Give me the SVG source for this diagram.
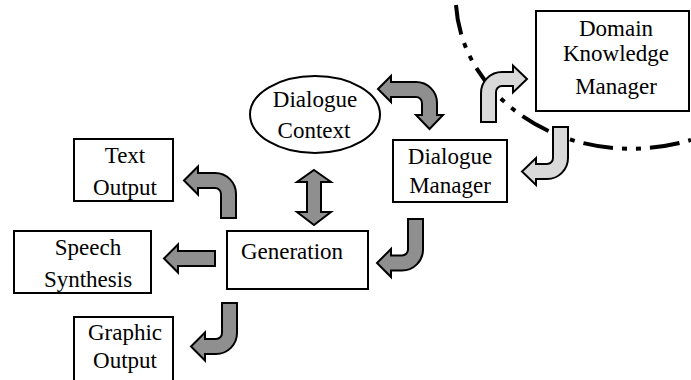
<svg xmlns="http://www.w3.org/2000/svg" width="691" height="380" viewBox="0 0 691 380">
<style>
.box{fill:#fff;stroke:#000;stroke-width:2}
.t{font-family:"Liberation Serif","Times New Roman",serif;font-size:23px;fill:#000;text-anchor:middle}
.dk{fill:#8f8f8f;stroke:#000;stroke-width:2;stroke-linejoin:miter}
.lt{fill:#d9d9d9;stroke:#000;stroke-width:2;stroke-linejoin:miter}
.bound{fill:none;stroke:#000;stroke-width:4;stroke-dasharray:30 9 5 9 5 9}
</style>
<rect width="691" height="380" fill="#fff"/>
<path class="bound" d="M456 5 C462 100 570 175 691 140"/>
<g id="domain-knowledge-manager">
<rect class="box" x="536" y="11" width="153" height="100"/>
<text class="t" x="616" y="36">Domain</text>
<text class="t" x="616" y="61">Knowledge</text>
<text class="t" x="616" y="94">Manager</text>
</g>
<g id="dialogue-manager">
<rect class="box" x="393" y="140" width="114" height="62"/>
<text class="t" x="450" y="164">Dialogue</text>
<text class="t" x="450" y="193">Manager</text>
</g>
<g id="dialogue-context">
<ellipse class="box" cx="315" cy="114.5" rx="65" ry="38.5"/>
<text class="t" x="315" y="107">Dialogue</text>
<text class="t" x="314" y="138">Context</text>
</g>
<g id="generation">
<rect class="box" x="227" y="231" width="141" height="58"/>
<text class="t" x="292" y="259">Generation</text>
</g>
<g id="text-output">
<rect class="box" x="74" y="139" width="99" height="62"/>
<text class="t" x="125" y="163">Text</text>
<text class="t" x="125" y="195">Output</text>
</g>
<g id="speech-synthesis">
<rect class="box" x="14" y="231" width="137" height="62"/>
<text class="t" x="88" y="255">Speech</text>
<text class="t" x="88" y="287">Synthesis</text>
</g>
<g id="graphic-output">
<rect class="box" x="74" y="317" width="99" height="70"/>
<text class="t" x="125" y="340">Graphic</text>
<text class="t" x="125" y="368">Output</text>
</g>
<g id="connectors">
<path class="dk" d="M378 89 L391 76 L391 82 L416 82 A21 21 0 0 1 437 103 L437 115 L443 115 L429.5 129 L416 115 L422 115 L422 103 A6 6 0 0 0 416 97 L391 97 L391 102 Z"/>
<path class="lt" d="M481 122 L481 93 A21 21 0 0 1 502 72 L513 72 L513 65.5 L527 79 L513 92.5 L513 86 L502 86 A6 6 0 0 0 496 92 L496 122 Z"/>
<path class="lt" d="M553 127 L568 127 L568 158 A21 21 0 0 1 547 179 L536 179 L536 185 L522 171.5 L536 158 L536 164 L547 164 A6 6 0 0 0 553 158 Z"/>
<path class="dk" d="M408 219 L423 219 L423 249.5 A21 21 0 0 1 402 270.5 L391 270.5 L391 277 L377 263 L391 249 L391 255.5 L402 255.5 A6 6 0 0 0 408 249.5 Z"/>
<path class="dk" d="M314 170 L331 182 L321 182 L321 212 L331 212 L314 225 L297 212 L307 212 L307 182 L297 182 Z"/>
<path class="dk" d="M184 180.5 L198 166.5 L198 173 L215 173 A21 21 0 0 1 236 194 L236 218 L221 218 L221 194 A6 6 0 0 0 215 188 L198 188 L198 194.5 Z"/>
<path class="dk" d="M164 258.5 L178 244.5 L178 251 L215 251 L215 266 L178 266 L178 272.5 Z"/>
<path class="dk" d="M222 303 L237 303 L237 333 A21 21 0 0 1 216 354 L205 354 L205 360.5 L191 346.5 L205 332.5 L205 339 L216 339 A6 6 0 0 0 222 333 Z"/>
</g>
</svg>
